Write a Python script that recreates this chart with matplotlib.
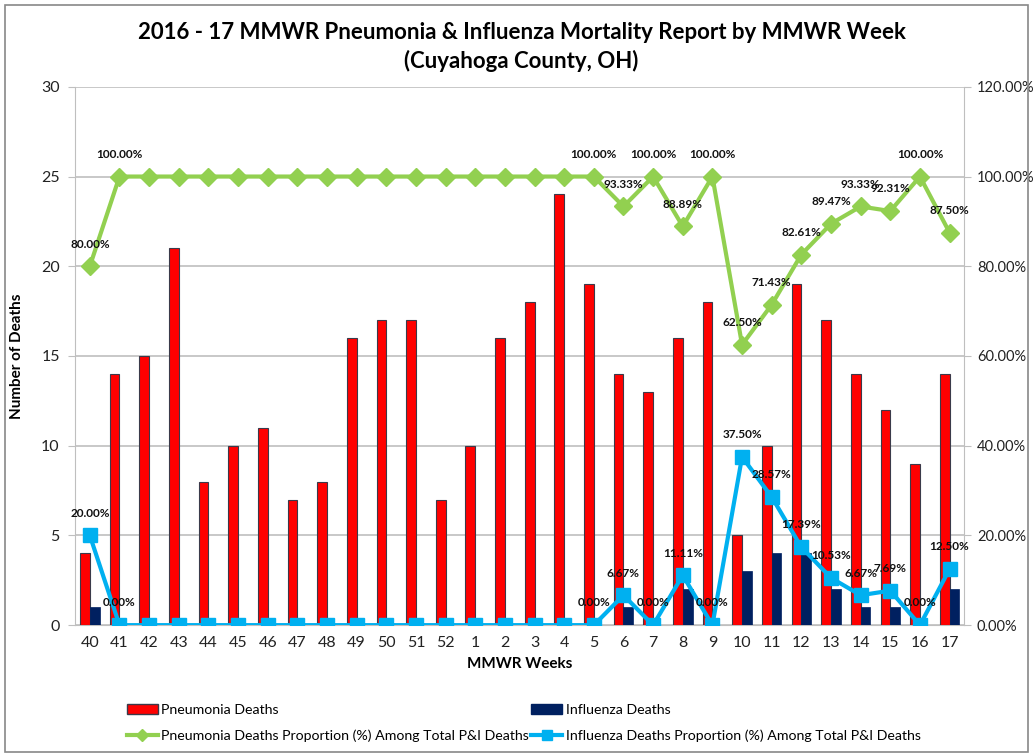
import matplotlib.pyplot as plt
from matplotlib.ticker import MultipleLocator, FuncFormatter
from matplotlib.patches import Rectangle
from matplotlib.lines import Line2D
import numpy as np

plt.rcParams['font.family'] = ['Lato', 'DejaVu Sans']

weeks = ['40', '41', '42', '43', '44', '45', '46', '47', '48', '49', '50', '51', '52',
         '1', '2', '3', '4', '5', '6', '7', '8', '9', '10', '11', '12', '13', '14', '15', '16', '17']
pneu_deaths = [4, 14, 15, 21, 8, 10, 11, 7, 8, 16, 17, 17, 7,
               10, 16, 18, 24, 19, 14, 13, 16, 18, 5, 10, 19, 17, 14, 12, 9, 14]
flu_deaths = [1, 0, 0, 0, 0, 0, 0, 0, 0, 0, 0, 0, 0,
              0, 0, 0, 0, 0, 1, 0, 2, 0, 3, 4, 4, 2, 1, 1, 0, 2]
pneu_pct = [80.00, 100, 100, 100, 100, 100, 100, 100, 100, 100, 100, 100, 100,
            100, 100, 100, 100, 100, 93.33, 100, 88.89, 100, 62.50, 71.43, 82.61,
            89.47, 93.33, 92.31, 100, 87.50]
flu_pct = [20.00, 0, 0, 0, 0, 0, 0, 0, 0, 0, 0, 0, 0,
           0, 0, 0, 0, 0, 6.67, 0, 11.11, 0, 37.50, 28.57, 17.39,
           10.53, 6.67, 7.69, 0, 12.50]
# which points carry a data label
labelled = [0, 1, 17, 18, 19, 20, 21, 22, 23, 24, 25, 26, 27, 28, 29]

RED = '#FF0000'
NAVY = '#002060'
GREEN = '#92D050'
BLUE = '#00B0F0'
GRID = '#BFBFBF'

fig = plt.figure(figsize=(10.33, 7.55), dpi=100)
fig.patches.append(Rectangle((0.005, 0.004), 0.99, 0.99, transform=fig.transFigure,
                             fill=False, edgecolor='#888888', linewidth=1.2))

ax = fig.add_axes([0.0726, 0.172, 0.861, 0.713])
ax2 = ax.twinx()

x = np.arange(len(weeks))
w = 0.33
ax.bar(x - w / 2, pneu_deaths, w, color=RED, edgecolor='#3a3a4a', linewidth=0.8, zorder=3)
ax.bar(x + w / 2, flu_deaths, w, color=NAVY, edgecolor=NAVY, linewidth=0.5, zorder=3)

ax.set_xlim(-0.5, len(weeks) - 0.5)
ax.set_ylim(0, 30)
ax.yaxis.set_major_locator(MultipleLocator(5))
ax.set_xticks(x)
ax.set_xticklabels(weeks)
ax.grid(axis='y', color=GRID, linewidth=1.2, zorder=0)
ax.set_axisbelow(True)
for s in ['top', 'right']:
    ax.spines[s].set_visible(False)
ax.spines['left'].set_color(GRID)
ax.spines['bottom'].set_color(GRID)
ax.tick_params(axis='both', labelsize=11.5, colors='#222222', length=0, pad=8)
ax.tick_params(axis='y', length=5, color=GRID, direction='out', pad=6)
ax.set_xlabel('MMWR Weeks', fontsize=11, fontweight='bold', labelpad=5)
ax.set_ylabel('Number of Deaths', fontsize=11, fontweight='bold', labelpad=12)

ax2.plot(x, pneu_pct, color=GREEN, linewidth=3, marker='D', markersize=9, zorder=4)
ax2.plot(x, flu_pct, color=BLUE, linewidth=3, marker='s', markersize=10, zorder=4)
ax2.set_ylim(0, 120)
ax2.yaxis.set_major_locator(MultipleLocator(20))
ax2.yaxis.set_major_formatter(FuncFormatter(lambda v, p: f'{v:.2f}%'))
for s in ['top', 'left', 'bottom']:
    ax2.spines[s].set_visible(False)
ax2.spines['right'].set_color(GRID)
ax2.tick_params(axis='y', labelsize=10.5, colors='#222222', length=5, color=GRID, pad=4)

for i in labelled:
    ax2.annotate(f'{pneu_pct[i]:.2f}%', (x[i], pneu_pct[i]), xytext=(0, 12),
                 textcoords='offset points', ha='center', va='bottom',
                 fontsize=8.5, fontweight='bold', color='#111111', zorder=6)
    ax2.annotate(f'{flu_pct[i]:.2f}%', (x[i], flu_pct[i]), xytext=(0, 12),
                 textcoords='offset points', ha='center', va='bottom',
                 fontsize=8.5, fontweight='bold', color='#111111', zorder=6)

fig.text(0.505, 0.938, '2016 - 17 MMWR Pneumonia & Influenza Mortality Report by MMWR Week\n(Cuyahoga County, OH)',
         ha='center', va='center', fontsize=16, fontweight='bold', linespacing=1.35)

handles = [
    Rectangle((0, 0), 1, 1, facecolor=RED, edgecolor='#3a3a4a'),
    Line2D([], [], color=GREEN, linewidth=3, marker='D', markersize=6),
    Rectangle((0, 0), 1, 1, facecolor=NAVY, edgecolor=NAVY),
    Line2D([], [], color=BLUE, linewidth=3, marker='s', markersize=7),
]
labels = ['Pneumonia Deaths',
          'Pneumonia Deaths Proportion (%) Among Total P&I Deaths',
          'Influenza Deaths',
          'Influenza Deaths Proportion (%) Among Total P&I Deaths']
fig.legend(handles, labels, ncol=2, loc='center', bbox_to_anchor=(0.507, 0.042),
           frameon=False, fontsize=10.2, handlelength=2.2, handletextpad=0.25,
           columnspacing=0.15, labelspacing=0.95)

fig.savefig('out.png', dpi=100)
